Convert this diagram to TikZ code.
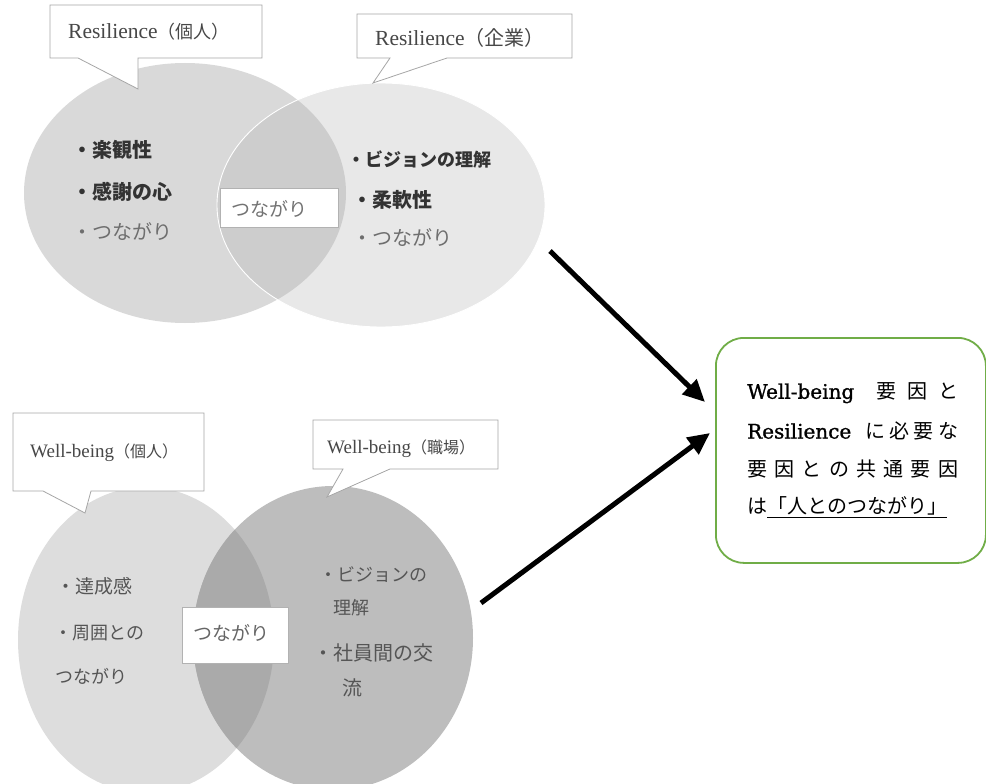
\documentclass[tikz,border=0pt]{standalone}
\usepackage{fontspec}
\setmainfont{Liberation Serif}
\newfontfamily\cjk{Noto Sans CJK JP}
\newfontfamily\dvs[FakeBold=1.2]{DejaVu Serif}
\usetikzlibrary{arrows.meta}
\definecolor{tlc}{HTML}{D9D9D9}
\definecolor{trc}{HTML}{E8E8E8}
\definecolor{tov}{HTML}{CDCDCD}
\definecolor{blc}{HTML}{DDDDDD}
\definecolor{brc}{HTML}{BDBDBD}
\definecolor{bov}{HTML}{AAAAAA}
\definecolor{boxgreen}{HTML}{70AD47}
\definecolor{dk}{HTML}{333333}
\definecolor{md}{HTML}{555555}
\definecolor{lt}{HTML}{6E6E6E}
\tikzset{
  callout/.style={fill=white, draw=black!35, line width=0.8pt},
  calltext/.style={inner sep=0pt, text=black!72},
  item/.style={inner sep=0pt, anchor=west},
  midbox/.style={fill=white, draw=black!30, line width=0.7pt},
  arr/.style={line width=5pt, -{Triangle[length=22pt,width=20pt]}},
  boxline/.style={inner sep=0pt, anchor=west, text=black, font=\cjk\fontsize{20}{24}\selectfont}
}
\newcommand{\fz}[1]{\fontsize{#1}{#1}\selectfont}
\begin{document}
\begin{tikzpicture}[x=1pt,y=-1pt]
\useasboundingbox (0,0) rectangle (986,784);
% ---------- top Venn ----------
\fill[tlc] (185,193) ellipse [x radius=161pt, y radius=130pt];
\fill[trc] (381,205) ellipse [x radius=164pt, y radius=122pt];
\begin{scope}
  \clip (381,205) ellipse [x radius=164pt, y radius=122pt];
  \fill[tov] (185,193) ellipse [x radius=161pt, y radius=130pt];
\end{scope}
\draw[white, line width=0.9pt] (381,205) ellipse [x radius=164pt, y radius=122pt];
% callouts top
\draw[callout] (50,5) -- (262,5) -- (262,58) -- (138,58) -- (138,89) -- (78,58) -- (50,58) -- cycle;
\node[calltext, anchor=west] (c1) at (68,32) {\fz{21.5}Resilience{\cjk\fz{18}（個人）}};
\draw[callout] (357,14) -- (572,14) -- (572,58) -- (447,58) -- (373,83) -- (390,58) -- (357,58) -- cycle;
\node[calltext, anchor=west] (c2) at (375,38) {\fz{21.5}Resilience{\cjk\fz{20}（企業）}};
% items top-left
\node[item, text=dk, font=\cjk\bfseries\fz{20}] (t1) at (72,150) {・楽観性};
\node[item, text=dk, font=\cjk\bfseries\fz{20}] (t2) at (72,192) {・感謝の心};
\node[item, text=lt, font=\cjk\fz{20}] (t3) at (72,232) {・つながり};
% items top-right
\node[item, text=dk, font=\cjk\bfseries\fz{18}] (t4) at (347,160) {・ビジョンの理解};
\node[item, text=dk, font=\cjk\bfseries\fz{20}] (t5) at (352,200) {・柔軟性};
\node[item, text=lt, font=\cjk\fz{20}] (t6) at (352,238) {・つながり};
% center top box
\draw[midbox] (220,188) rectangle (338,227);
\node[inner sep=0pt, text=black!55, font=\cjk\fz{19}] (tc) at (269,209) {つながり};
% ---------- bottom Venn ----------
\fill[blc] (146,640) ellipse [x radius=128pt, y radius=153pt];
\fill[brc] (333,638) ellipse [x radius=140pt, y radius=152pt];
\begin{scope}
  \clip (333,638) ellipse [x radius=140pt, y radius=152pt];
  \fill[bov] (146,640) ellipse [x radius=128pt, y radius=153pt];
\end{scope}
% callouts bottom
\draw[callout] (13,413) -- (204,413) -- (204,491) -- (91,491) -- (85,513) -- (43,491) -- (13,491) -- cycle;
\node[calltext, anchor=west] (c3) at (30,453) {\fz{19}Well-being{\cjk\fz{16}（個人）}};
\draw[callout] (313,420) -- (498,420) -- (498,469) -- (390,469) -- (327,497) -- (343,469) -- (313,469) -- cycle;
\node[calltext, anchor=west] (c4) at (327,449) {\fz{19}Well-being{\cjk\fz{16}（職場）}};
% items bottom-left
\node[item, text=md, font=\cjk\fz{19}] (b1) at (56,586) {・達成感};
\node[item, text=md, font=\cjk\fz{18}] (b2) at (54,633) {・周囲との};
\node[item, text=md, font=\cjk\fz{18}] (b3) at (55,676) {つながり};
% items bottom-right
\node[item, text=md, font=\cjk\fz{18}] (b4) at (319,575) {・ビジョンの};
\node[item, text=md, font=\cjk\fz{18}] (b5) at (333,608) {理解};
\node[item, text=md, font=\cjk\fz{20}] (b6) at (313,653) {・社員間の交};
\node[item, text=md, font=\cjk\fz{20}] (b7) at (342,688) {流};
% center bottom box
\draw[midbox] (182,607) rectangle (288,663);
\node[inner sep=0pt, text=black!60, font=\cjk\fz{19}] (bc) at (231,633) {つながり};
% ---------- conclusion box ----------
\node[draw=boxgreen, line width=1.8pt, rounded corners=28pt, fill=white,
      minimum width=270pt, minimum height=225pt, anchor=north west, inner sep=0pt] (res) at (715,337) {};
\node[boxline] (l1) at (747,393) {\hbox to 211pt{{\dvs Well-being}\hskip 22pt 要\hfil 因\hfil と}};
\node[boxline] (l2) at (747,431) {\hbox to 211pt{{\dvs Resilience}\hskip 14pt に\hfil 必\hfil 要\hfil な}};
\node[boxline] (l3) at (747,469) {\hbox to 211pt{要\hfil 因\hfil と\hfil の\hfil 共\hfil 通\hfil 要\hfil 因}};
\node[boxline] (l4) at (747,507) {は\underline{「人とのつながり」}};
% ---------- arrows ----------
\coordinate (s1) at (550,251);
\coordinate (e1) at (705,402);
\coordinate (s2) at (481,603);
\coordinate (e2) at (710,433);
\draw[arr] (s1) -- (e1);
\draw[arr] (s2) -- (e2);
\end{tikzpicture}
\end{document}
